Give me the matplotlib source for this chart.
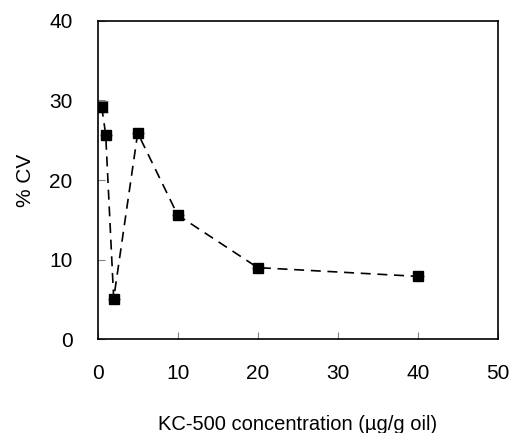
import matplotlib.pyplot as plt

# data
conc = [0.5, 1, 2, 5, 10, 20, 40]
cv = [29.2, 25.7, 5.1, 25.9, 15.6, 9.0, 7.9]
cv_err = [0.7, 0, 0, 0, 0, 0, 0]

plt.rcParams["font.family"] = ["Liberation Sans", "DejaVu Sans"]

fig = plt.figure(figsize=(5.11, 4.33), dpi=100)
ax = fig.add_axes([97.7 / 511, 1 - 339.3 / 433, 400 / 511, 318.6 / 433])

ax.errorbar(conc, cv, yerr=cv_err, fmt="s--", color="black", markersize=6.5,
            linewidth=1.2, dashes=(6, 4), ecolor="gray", elinewidth=0.8,
            capsize=4)

ax.set_xlim(0, 50)
ax.set_ylim(0, 40)
ax.set_xticks([0, 10, 20, 30, 40, 50])
ax.set_yticks([0, 10, 20, 30, 40])
ax.tick_params(direction="in", length=5, color="gray", labelsize=15)
ax.tick_params(axis="x", pad=18)
ax.tick_params(axis="y", pad=18)
for s in ax.spines.values():
    s.set_linewidth(1.2)

ax.set_xlabel("KC-500 concentration (µg/g oil)", fontsize=14.5, labelpad=23)
ax.set_ylabel("% CV", fontsize=15, labelpad=10)

fig.savefig("out.png", dpi=100)
